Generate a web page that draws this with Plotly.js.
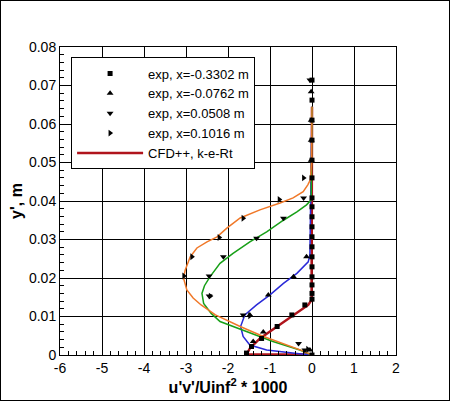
<!DOCTYPE html>
<html>
<head>
<meta charset="utf-8">
<script src="https://cdn.plot.ly/plotly-3.0.1.min.js"></script>
<style>
  html, body { margin: 0; padding: 0; background: #fff; }
  #chart { width: 450px; height: 401px; border: 1px solid #000; box-sizing: border-box; }
</style>
</head>
<body>
<div id="chart"></div>
<script>
// CFD profiles, one per station
var cfdRedX = [0.00, -0.01, -0.09, -0.44, -0.83, -1.24, -1.48, -1.56, -1.56, 0.00];
var cfdRedY = [0.0645, 0.0143, 0.0130, 0.0104, 0.0074, 0.0043, 0.0017, 0.0004, 0.0001, 0.0001];

var cfdBlueX = [0.00, -0.05, -0.09, -0.36, -0.68, -1.00, -1.32, -1.60, -1.70, -1.64, -1.48, -1.08, -0.36, 0.00];
var cfdBlueY = [0.0645, 0.0260, 0.0242, 0.0212, 0.0186, 0.0156, 0.0130, 0.0104, 0.0074, 0.0048, 0.0026, 0.0013, 0.0004, 0.0000];

var cfdGreenX = [0.00, -0.02, -0.13, -0.36, -0.68, -1.08, -1.48, -1.88, -2.19, -2.43, -2.56, -2.62, -2.58, -2.40, -2.19, -1.48, -0.93, -0.29, 0.00];
var cfdGreenY = [0.0645, 0.0403, 0.0390, 0.0372, 0.0350, 0.0320, 0.0294, 0.0264, 0.0238, 0.0203, 0.0180, 0.0160, 0.0134, 0.0108, 0.0087, 0.0057, 0.0035, 0.0013, 0.0000];

var cfdOrangeX = [0.00, -0.01, -0.04, -0.10, -0.21, -0.45, -0.76, -1.24, -1.71, -2.02, -2.26, -2.50, -2.74, -2.90, -3.02, -3.06, -2.98, -2.83, -2.64, -2.30, -1.71, -1.20, -0.25, 0.00];
var cfdOrangeY = [0.0645, 0.0500, 0.0455, 0.0442, 0.0424, 0.0408, 0.0395, 0.0377, 0.0356, 0.0330, 0.0307, 0.0294, 0.0278, 0.0255, 0.0220, 0.0200, 0.0169, 0.0148, 0.0130, 0.0104, 0.0074, 0.0050, 0.0012, 0.0000];

// experiment, x = -0.3302 m
var expAX = [0, 0, 0, 0, 0, 0, 0, 0, 0, 0, 0, 0, 0, 0, 0, 0, 0, 0, -0.17, -0.48, -0.83, -1.20, -1.44, -1.56, 0];
var expAY = [0.0714, 0.0662, 0.0610, 0.0558, 0.0506, 0.0460, 0.0408, 0.0385, 0.0359, 0.0333, 0.0307, 0.0281, 0.0255, 0.0229, 0.0203, 0.0182, 0.0160, 0.0145, 0.0130, 0.0104, 0.0074, 0.0043, 0.0022, 0.0005, 0.0000];
// experiment, x = -0.0762 m
var expBX = [-0.02, -0.02, -0.02, -0.02, -0.13, -0.44, -1.04, -1.48, -1.16, -1.40, -0.05];
var expBY = [0.0684, 0.0610, 0.0558, 0.0506, 0.0255, 0.0203, 0.0156, 0.0104, 0.0060, 0.0035, 0.0013];
// experiment, x = 0.0508 m
var expCX = [-0.05, -0.20, -0.68, -1.32, -2.11, -2.45, -2.45, -1.64, -0.32, -0.17];
var expCY = [0.0714, 0.0408, 0.0355, 0.0303, 0.0255, 0.0205, 0.0153, 0.0104, 0.0030, 0.0013];
// experiment, x = 0.1016 m
var expDX = [-0.20, -0.78, -1.64, -2.21, -2.86, -3.05, -2.42, -1.48, -0.10];
var expDY = [0.0460, 0.0404, 0.0355, 0.0305, 0.0255, 0.0205, 0.0153, 0.0102, 0.0015];

var xTicks = [-6, -5, -4, -3, -2, -1, 0, 1, 2];
var xTickText = ["-6", "-5", "-4", "-3", "-2", "-1", "0", "1", "2"];
var yTicks = [0, 0.01, 0.02, 0.03, 0.04, 0.05, 0.06, 0.07, 0.08];
var yTickText = ["0", "0.01", "0.02", "0.03", "0.04", "0.05", "0.06", "0.07", "0.08"];

var FONT = "Liberation Sans, Arial, Helvetica, sans-serif";

function cfdLine(x, y, color, width, name, show) {
  return { type: "scatter", mode: "lines", x: x, y: y, name: name, showlegend: show,
    legendrank: 5, line: { color: color, width: width }, hoverinfo: "skip" };
}
function expPts(x, y, symbol, size, name, rank) {
  return { type: "scatter", mode: "markers", x: x, y: y, name: name, legendrank: rank,
    marker: { symbol: symbol, size: size, color: "#000" }, hoverinfo: "skip" };
}

// red first so the orange profile sits on top along the wall-normal line
var traces = [
  cfdLine(cfdRedX, cfdRedY, "#b0141c", 2.5, "CFD++, k-e-Rt", true),
  cfdLine(cfdBlueX, cfdBlueY, "#2a2ad8", 1.5, "blue", false),
  cfdLine(cfdGreenX, cfdGreenY, "#18a018", 1.5, "green", false),
  cfdLine(cfdOrangeX, cfdOrangeY, "#f07828", 1.5, "orange", false),
  expPts(expAX, expAY, "square", 5, "exp, x=-0.3302 m", 1),
  expPts(expBX, expBY, "triangle-up", 6, "exp, x=-0.0762 m", 2),
  expPts(expCX, expCY, "triangle-down", 6, "exp, x=0.0508 m", 3),
  expPts(expDX, expDY, "triangle-right", 6, "exp, x=0.1016 m", 4)
];

var axisBase = {
  showgrid: true, gridcolor: "#000", gridwidth: 1,
  showline: true, linecolor: "#000", linewidth: 1, mirror: true,
  zeroline: false, ticks: "inside", ticklen: 6, tickcolor: "#000",
  tickfont: { family: FONT, size: 14, color: "#000" }
};

var layout = {
  width: 448, height: 399,
  margin: { l: 59, r: 53, t: 46, b: 45 },
  paper_bgcolor: "#fff", plot_bgcolor: "#fff",
  font: { family: FONT, color: "#000" },
  xaxis: Object.assign({}, axisBase, {
    range: [-6, 2], tickvals: xTicks, ticktext: xTickText,
    minor: { dtick: 0.2, ticks: "inside", ticklen: 4, tickcolor: "#000", showgrid: false },
    title: { text: "<b>u'v'/Uinf<sup>2</sup> * 1000</b>", font: { family: FONT, size: 16, color: "#000" }, standoff: 4 }
  }),
  yaxis: Object.assign({}, axisBase, {
    range: [0, 0.08], tickvals: yTicks, ticktext: yTickText,
    minor: { dtick: 0.002, ticks: "inside", ticklen: 4, tickcolor: "#000", showgrid: false },
    title: { text: "<b>y', m</b>", font: { family: FONT, size: 16, color: "#000" }, standoff: 2 }
  }),
  legend: {
    x: 0.033, y: 0.966, xanchor: "left", yanchor: "top",
    bgcolor: "#fff", bordercolor: "#000", borderwidth: 1,
    font: { family: FONT, size: 13, color: "#000" },
    itemwidth: 66, traceorder: "normal"
  }
};

Plotly.newPlot("chart", traces, layout, { staticPlot: true, displayModeBar: false });
</script>
</body>
</html>
